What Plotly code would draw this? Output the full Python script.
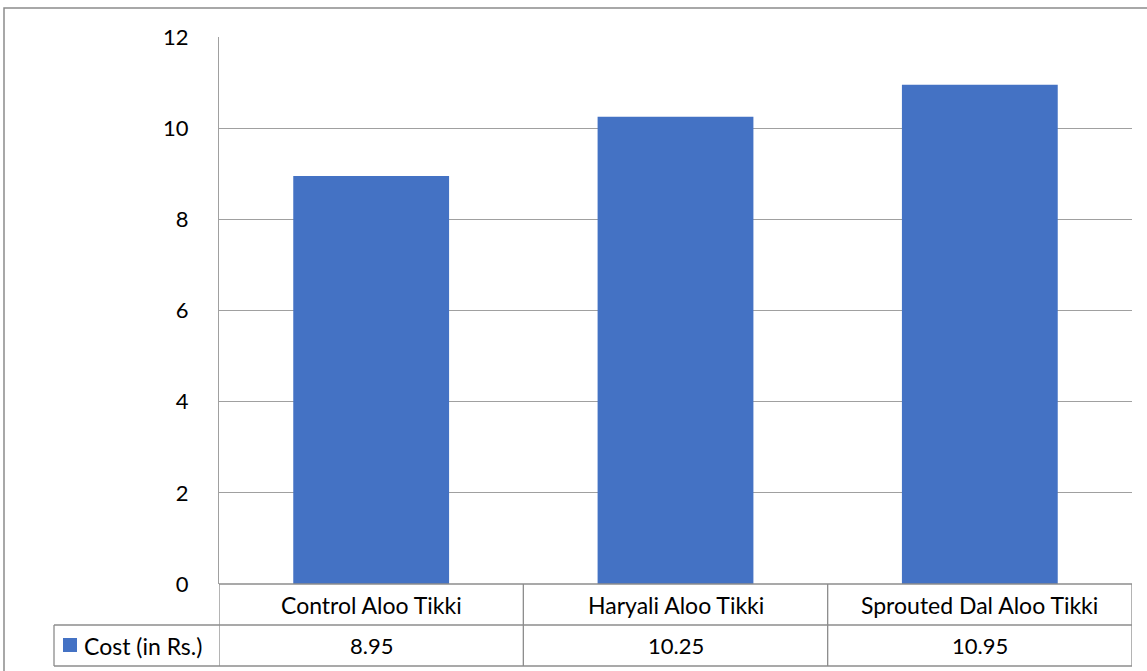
import plotly.graph_objects as go

categories = ["Control Aloo Tikki", "Haryali Aloo Tikki", "Sprouted Dal Aloo Tikki"]
values = [8.95, 10.25, 10.95]
value_labels = ["8.95", "10.25", "10.95"]
series_name = "Cost (in Rs.)"
y_ticks = [0, 2, 4, 6, 8, 10, 12]

W, H = 1147, 671
L, R, T, B = 219, 1132, 37, 584
pw, ph = R - L, B - T


def px(x):
    return (x - L) / pw


def py(y):
    return (B - y) / ph


BLUE = "#4472C4"
FONT = "Lato, Calibri, Carlito, sans-serif"
GRID = "#A0A0A0"
TBL = "#8C8C8C"

xs = list(range(len(categories)))
fig = go.Figure(go.Bar(x=xs, y=values, marker=dict(color=BLUE, line=dict(width=0)),
                       name=series_name, showlegend=False))

fig.update_layout(
    width=W, height=H,
    margin=dict(l=L, r=W - R, t=T, b=H - B),
    plot_bgcolor="white", paper_bgcolor="white",
    bargap=0.488,
    font=dict(family=FONT, size=20, color="#000000"),
)
fig.update_xaxes(range=[-0.5, len(categories) - 0.5], showticklabels=False, showgrid=False,
                 zeroline=False, showline=False, fixedrange=True)
fig.update_yaxes(range=[0, 12], tickvals=y_ticks, ticktext=[str(t) for t in y_ticks],
                 showgrid=True, gridcolor=GRID, gridwidth=1, zeroline=False,
                 showline=True, linecolor=GRID, linewidth=1, ticks="",
                 ticklabelstandoff=25, tickfont=dict(size=22, family=FONT))

shapes = []
# outer chart border
shapes.append(dict(type="rect", xref="paper", yref="paper", x0=px(4), x1=px(1170), y0=py(8), y1=py(690),
                   line=dict(color="#8C8C8C", width=1.5), fillcolor="rgba(0,0,0,0)", layer="below"))
# data table
r1, r2, r3 = 584, 625, 666
for yy, x0 in [(r1, L), (r2, 54), (r3, 54)]:
    shapes.append(dict(type="line", xref="paper", yref="paper", x0=px(x0), x1=1, y0=py(yy), y1=py(yy),
                       line=dict(color=TBL, width=1.3)))
shapes.append(dict(type="line", xref="paper", yref="paper", x0=px(54), x1=px(54), y0=py(r2), y1=py(r3),
                   line=dict(color=TBL, width=1.3)))
for i in range(len(categories) + 1):
    shapes.append(dict(type="line", xref="x", yref="paper", x0=i - 0.5, x1=i - 0.5, y0=py(r1), y1=py(r3),
                       line=dict(color=TBL, width=1.3)))
# legend key
shapes.append(dict(type="rect", xref="paper", yref="paper", x0=px(63), x1=px(77), y0=py(652), y1=py(638),
                   fillcolor=BLUE, line=dict(width=0)))
fig.update_layout(shapes=shapes)

ann = []
for i, c in enumerate(categories):
    ann.append(dict(x=i, y=py((r1 + r2) / 2), xref="x", yref="paper", text=c, showarrow=False,
                    font=dict(size=23, family=FONT), xanchor="center", yanchor="middle"))
    ann.append(dict(x=i, y=py((r2 + r3) / 2), xref="x", yref="paper", text=value_labels[i], showarrow=False,
                    font=dict(size=22, family=FONT), xanchor="center", yanchor="middle"))
ann.append(dict(x=px(82), y=py((r2 + r3) / 2), xref="paper", yref="paper", text=series_name, showarrow=False,
                font=dict(size=23, family=FONT), xanchor="left", yanchor="middle"))
fig.update_layout(annotations=ann)

fig.write_html("out.html")
